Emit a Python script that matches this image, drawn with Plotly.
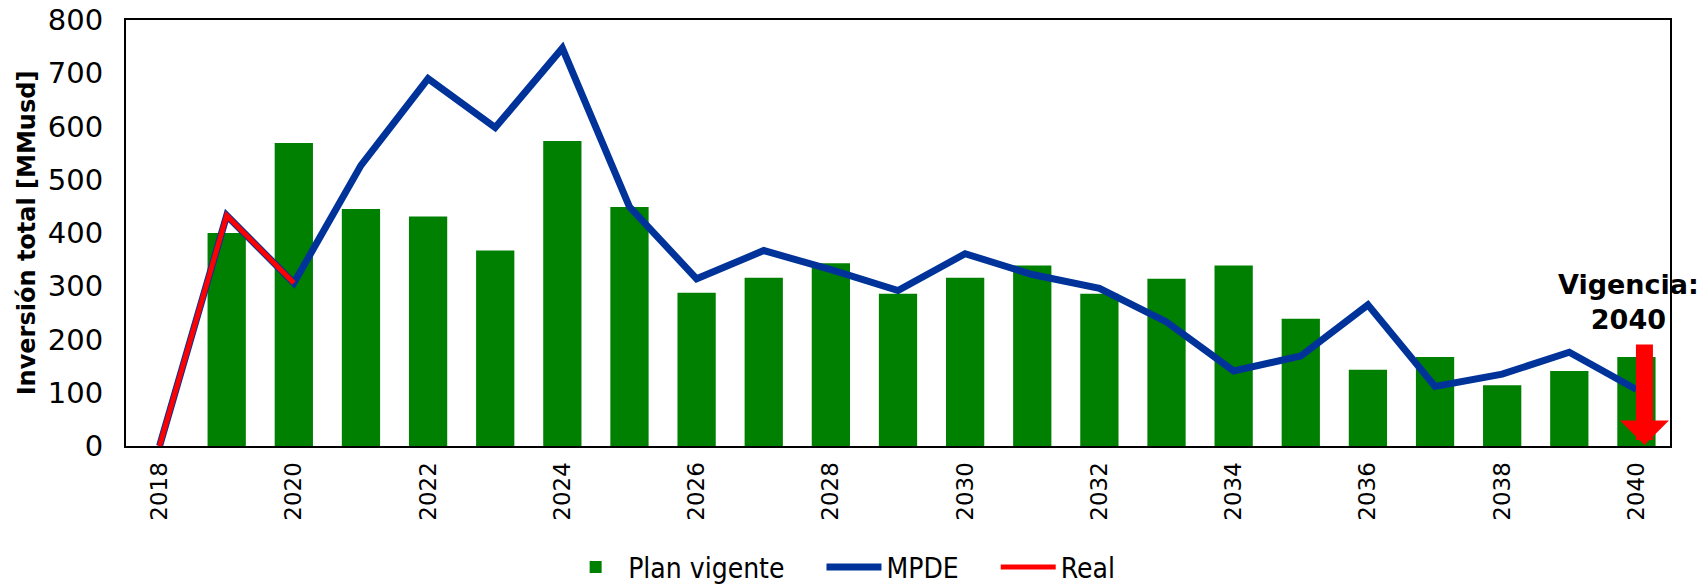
import plotly.graph_objects as go

# data
years = ["2018", "2019", "2020", "2021", "2022", "2023", "2024", "2025", "2026",
         "2027", "2028", "2029", "2030", "2031", "2032", "2033", "2034", "2035",
         "2036", "2037", "2038", "2039", "2040"]

plan_vigente = [0, 400, 569, 445, 431, 367, 573, 449, 288, 316, 343, 286,
                316, 339, 286, 314, 339, 239, 143, 167, 114, 141, 167]

mpde = [0, 433, 306, 527, 690, 598, 747, 449, 314, 367, 331, 292,
        361, 322, 296, 233, 141, 169, 265, 112, 135, 176, 106]

real_years = ["2018", "2019", "2020"]
real = [0, 433, 306]

tick_years = years[::2]
last_idx = years.index("2040")  # category position of 2040

pad = "\u00a0" * 4  # a bit of room between legend entries

fig = go.Figure()

fig.add_trace(go.Bar(
    x=years, y=plan_vigente, name="Plan vigente" + pad,
    marker=dict(color="#008000", line=dict(width=0)),
))
fig.add_trace(go.Scatter(
    x=years, y=mpde, name="MPDE" + pad, mode="lines",
    line=dict(color="#003399", width=7),
))
fig.add_trace(go.Scatter(
    x=real_years, y=real, name="Real", mode="lines",
    line=dict(color="#FF0000", width=5),
))

# "Vigencia: 2040" label and red arrow
fig.add_annotation(
    x=last_idx, y=205, yanchor="bottom", xshift=-8,
    text="<b>Vigencia:<br>2040</b>", showarrow=False, align="center",
    font=dict(family="DejaVu Sans", size=27, color="black"),
)
fig.add_annotation(
    x=last_idx, y=2, xshift=8, text="",
    showarrow=True, ax=0, ay=-102,
    arrowcolor="#FF0000", arrowwidth=17, arrowhead=1, arrowsize=0.48,
)

fig.update_layout(
    width=1706, height=587,
    margin=dict(l=126, r=36, t=20, b=141, autoexpand=False),
    plot_bgcolor="white", paper_bgcolor="white",
    bargap=0.43,
    font=dict(family="DejaVu Sans", color="black"),
    showlegend=True,
    legend=dict(
        orientation="h", x=0.4635, xanchor="center", y=-0.285, yanchor="middle",
        font=dict(family="DejaVu Sans Condensed", size=28, color="black"),
        itemwidth=55, traceorder="normal",
    ),
)

fig.update_xaxes(
    type="category", range=[-0.5, len(years) - 0.5],
    tickvals=tick_years, ticktext=tick_years,
    tickangle=-90, tickfont=dict(size=23, family="DejaVu Sans"),
    showline=True, linecolor="black", linewidth=2, mirror=True,
    showgrid=False, ticks="", ticklabelstandoff=5, automargin=False,
)
fig.update_yaxes(
    range=[0, 800], dtick=100,
    tickfont=dict(size=29, family="DejaVu Sans"),
    ticklabeloverflow="allow",
    title=dict(text="<b>Inversión total [MMusd]</b>",
               font=dict(size=24, family="DejaVu Sans"), standoff=5),
    showline=True, linecolor="black", linewidth=2, mirror=True,
    showgrid=False, zeroline=False, ticks="", ticklabelstandoff=15,
    automargin=False,
)

# drop the browser's default body margin so the figure sits at the page corner
fig.write_html("out.html", config={"displayModeBar": False},
               post_script="document.body.style.margin = '0';")
